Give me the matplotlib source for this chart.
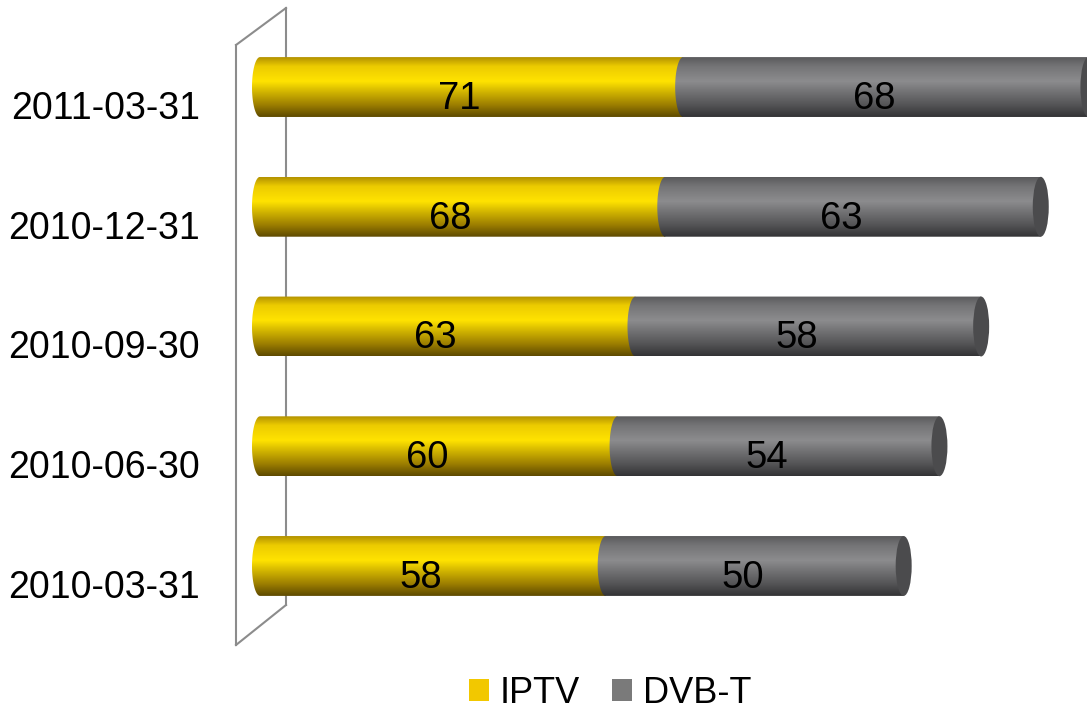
import numpy as np
import matplotlib
matplotlib.use("Agg")
import matplotlib.pyplot as plt
from matplotlib.patches import PathPatch, Ellipse, Patch
from matplotlib.path import Path
from matplotlib.colors import LinearSegmentedColormap
from matplotlib.lines import Line2D
from matplotlib.transforms import offset_copy, blended_transform_factory

categories = ["2010-03-31", "2010-06-30", "2010-09-30", "2010-12-31", "2011-03-31"]
iptv = [58, 60, 63, 68, 71]
dvbt = [50, 54, 58, 63, 68]
series_names = ["IPTV", "DVB-T"]

plt.rcParams['font.family'] = ['Liberation Sans', 'DejaVu Sans']

W, H = 1087, 720
fig = plt.figure(figsize=(W / 100, H / 100), dpi=100)
px_per_unit = 5.96
x0_px = 260
ax_left_px, ax_right_px = 235, 1087
ax_top_px, ax_bot_px = 8, 645
ax = fig.add_axes([ax_left_px / W, (H - ax_bot_px) / H,
                   (ax_right_px - ax_left_px) / W, (ax_bot_px - ax_top_px) / H])
ax.set_xlim(-(x0_px - ax_left_px) / px_per_unit, (ax_right_px - x0_px) / px_per_unit)
ax.set_ylim(-0.66, 4.66)
for s in ax.spines.values():
    s.set_visible(False)
ax.set_xticks([])
ax.set_yticks([])

cm_y = LinearSegmentedColormap.from_list("y", [(0.0, '#5e4a00'), (0.2, '#9c7e00'), (0.6, '#ffe300'),
                                               (0.85, '#eccb00'), (1.0, '#b39200')])
cm_g = LinearSegmentedColormap.from_list("g", [(0.0, '#333335'), (0.2, '#545456'), (0.6, '#8c8c8e'),
                                               (0.85, '#747476'), (1.0, '#5a5a5c')])

h = 0.25
rx = 8 / px_per_unit
grad = np.linspace(0, 1, 128).reshape(-1, 1)
label_tr = offset_copy(ax.transData, fig=fig, x=-12, y=-22, units='dots')
cat_tr = offset_copy(blended_transform_factory(ax.transAxes, ax.transData), fig=fig,
                     x=-35, y=-32, units='dots')


def seg_path(a, b, yc):
    t = np.linspace(np.pi / 2, 3 * np.pi / 2, 40)
    xs = list(a + rx * np.cos(t)) + [b, b]
    ys = list(yc + h * np.sin(t)) + [yc - h, yc + h]
    verts = list(zip(xs, ys)) + [(xs[0], ys[0])]
    codes = [Path.MOVETO] + [Path.LINETO] * (len(verts) - 2) + [Path.CLOSEPOLY]
    return Path(verts, codes)


def draw_seg(a, b, yc, cmap, z):
    p = PathPatch(seg_path(a, b, yc), facecolor='none', edgecolor='none', zorder=z)
    ax.add_patch(p)
    im = ax.imshow(grad, cmap=cmap, origin='lower', aspect='auto',
                   extent=(a - rx - 0.2, b + 0.2, yc - h, yc + h), zorder=z,
                   interpolation='bilinear')
    im.set_clip_path(p)


for i, cat in enumerate(categories):
    a = iptv[i]
    b = dvbt[i]
    draw_seg(0, a, i, cm_y, 2)
    draw_seg(a, a + b, i, cm_g, 3)
    ax.add_patch(Ellipse((a + b, i), 2 * rx, 2 * h, facecolor='#4b4b4d', edgecolor='none', zorder=4))
    ax.text(a / 2, i, str(a), ha='center', va='baseline', fontsize=27.5, color='black', zorder=6,
            transform=label_tr)
    ax.text(a + b / 2, i, str(b), ha='center', va='baseline', fontsize=27.5, color='black', zorder=6,
            transform=label_tr)
    ax.text(0, i, cat, ha='right', va='baseline', fontsize=27, color='black',
            transform=cat_tr, clip_on=False)

# wall lines (in pixel -> axes coords)
def ax_pt(xp, yp):
    return ((xp - ax_left_px) / (ax_right_px - ax_left_px), (ax_bot_px - yp) / (ax_bot_px - ax_top_px))

wall_color = '#8c8c8c'
for (p1, p2) in [((236, 45), (236, 645)), ((286, 8), (286, 605)),
                 ((236, 45), (286, 8)), ((236, 645), (286, 605))]:
    q1, q2 = ax_pt(*p1), ax_pt(*p2)
    ax.add_line(Line2D([q1[0], q2[0]], [q1[1], q2[1]], transform=ax.transAxes,
                       color=wall_color, lw=1.5, zorder=1, clip_on=False))

handles = [Patch(facecolor='#f2c800', edgecolor='none'), Patch(facecolor='#7a7a7a', edgecolor='none')]
fig.legend(handles, series_names, loc='lower center', bbox_to_anchor=(610 / W, -0.012),
           ncol=2, frameon=False, fontsize=26, handlelength=0.55, handleheight=0.55,
           handletextpad=0.3, columnspacing=0.9, borderpad=0)

fig.savefig("out.png", dpi=100)
